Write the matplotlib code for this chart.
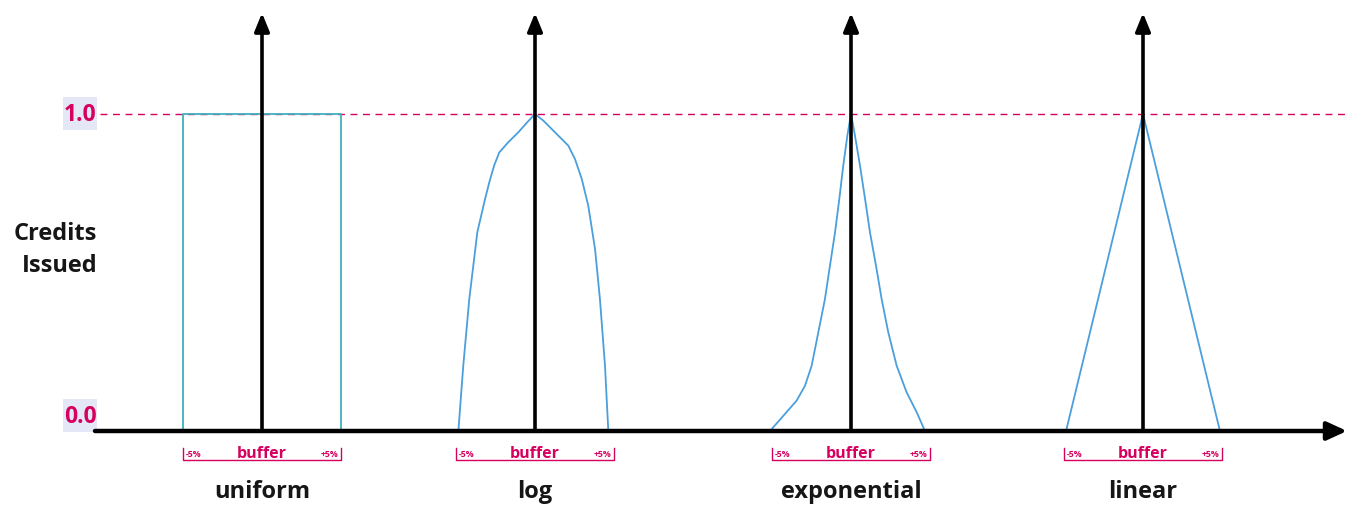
import numpy as np
import matplotlib
matplotlib.use('Agg')
import matplotlib.pyplot as plt
from matplotlib.patches import Rectangle

plt.rcParams['font.family'] = ['Open Sans', 'DejaVu Sans']

# panels: name, centre position on the canvas
panel_names = ['uniform', 'log', 'exponential', 'linear']
panel_centres = [262, 535, 851, 1143]

# curve shapes: offset in % of target, credits issued (0..1)
uniform_pct = [-5.0, -5.0, 5.0, 5.0]
uniform_val = [0.0, 1.0, 1.0, 0.0]

log_pct = [-4.85, -4.54, -4.16, -3.65, -3.16, -2.89, -2.59, -2.26, -1.69, -1.06, -0.49, 0.0,
           0.53, 1.27, 2.11, 2.53, 2.96, 3.37, 3.80, 4.11, 4.43, 4.64]
log_val = [0.0, 0.206, 0.416, 0.627, 0.732, 0.785, 0.837, 0.879, 0.911, 0.942, 0.974, 1.0,
           0.979, 0.942, 0.900, 0.858, 0.795, 0.711, 0.574, 0.416, 0.206, 0.0]

exp_pct = [-5.13, -4.28, -3.44, -2.91, -2.49, -2.07, -1.65, -1.33, -1.01, -0.74, -0.49, -0.23, 0.0,
           0.25, 0.57, 0.89, 1.20, 1.58, 1.94, 2.36, 2.89, 3.52, 4.16, 4.68]
exp_val = [0.0, 0.048, 0.096, 0.143, 0.206, 0.311, 0.416, 0.522, 0.627, 0.732, 0.837, 0.932, 1.0,
           0.932, 0.837, 0.732, 0.627, 0.522, 0.416, 0.311, 0.206, 0.122, 0.059, 0.0]

lin_pct = [-4.87, 0.0, 4.87]
lin_val = [0.0, 1.0, 0.0]

curves = [(uniform_pct, uniform_val), (log_pct, log_val),
          (exp_pct, exp_val), (lin_pct, lin_val)]
curve_colors = ['#3fb0bd', '#4a9fdc', '#4a9fdc', '#4a9fdc']

y_ticks = [0.0, 1.0]
y_tick_labels = ['0.0', '1.0']

# canvas geometry (pixels)
W, H = 1348, 506
base_y = 432
top_y = 115
px_per_pct = 15.8
magenta = '#d6005f'
ink = '#161616'

fig = plt.figure(figsize=(W / 100, H / 100), dpi=100, facecolor='white')
ax = fig.add_axes([0, 0, 1, 1])
ax.set_xlim(0, W)
ax.set_ylim(H, 0)
ax.axis('off')


def to_y(v):
    return base_y - np.asarray(v) * (base_y - top_y)


# dashed 1.0 line
ax.plot([100, W], [to_y(1.0)] * 2, color=magenta, lw=1.0, ls=(0, (5, 4)), zorder=1)

# horizontal axis with arrow
ax.annotate('', xy=(W - 1, base_y), xytext=(95, base_y),
            arrowprops=dict(arrowstyle='-|>,head_length=1.2,head_width=0.55',
                            lw=3.2, color='black', shrinkA=0, shrinkB=0), zorder=4)

# y tick labels with light boxes
for v, lab in zip(y_ticks, y_tick_labels):
    yy = to_y(v) - 15 if v == 0 else to_y(v)
    ax.add_patch(Rectangle((63, yy - 17), 34, 33, color='#e4e7f6', zorder=2, lw=0))
    ax.text(80, yy, lab, color=magenta, fontsize=16.5, fontweight='bold',
            ha='center', va='center', zorder=3)

ax.text(97, 250, 'Credits\nIssued', fontsize=17, fontweight='bold', ha='right',
        va='center', linespacing=1.4, color=ink)

for name, cx, (pct, val), col in zip(panel_names, panel_centres, curves, curve_colors):
    xs = cx + np.asarray(pct) * px_per_pct
    ax.plot(xs, to_y(val), color=col, lw=1.3, zorder=3)

    # vertical arrow
    ax.annotate('', xy=(cx, 14), xytext=(cx, base_y),
                arrowprops=dict(arrowstyle='-|>,head_length=1.1,head_width=0.45',
                                lw=2.6, color='black', shrinkA=0, shrinkB=0), zorder=5)

    # buffer bracket
    lx, rx = cx - 5 * px_per_pct, cx + 5 * px_per_pct
    ax.plot([lx, lx, rx, rx], [449, 461, 461, 449], color=magenta, lw=1.0)
    ax.text(cx, 454, 'buffer', color=magenta, fontsize=11.5, fontweight='bold',
            ha='center', va='center')
    ax.text(lx + 3, 455, '-5%', color=magenta, fontsize=6.3, fontweight='bold',
            ha='left', va='center')
    ax.text(rx - 3, 455, '+5%', color=magenta, fontsize=6.3, fontweight='bold',
            ha='right', va='center')
    ax.text(cx, 492, name, fontsize=17, fontweight='bold', ha='center',
            va='center', color=ink)

fig.savefig('out.png', dpi=100)
